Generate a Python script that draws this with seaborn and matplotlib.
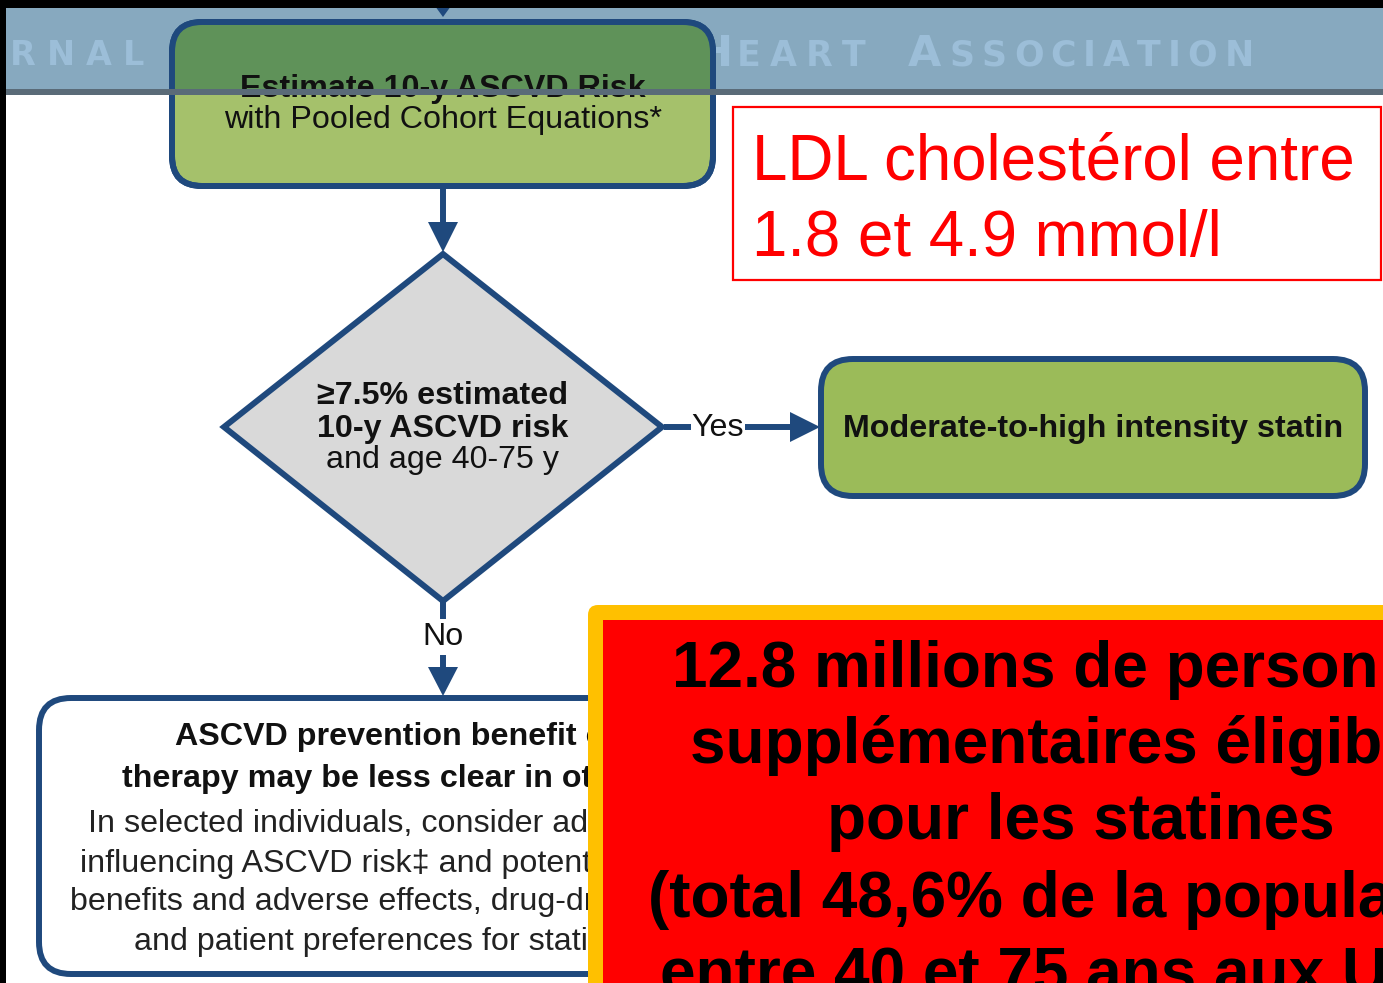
import matplotlib
matplotlib.use("Agg")
import matplotlib.pyplot as plt
from matplotlib.patches import FancyBboxPatch, Rectangle, Polygon
import seaborn as sns

# ---------------- text content ----------------
header_left = "RNAL"
header_right_parts = ["H", "EART", "A", "SSOCIATION"]
top_box_lines = ["Estimate 10-y ASCVD Risk", "with Pooled Cohort Equations*"]
diamond_bold = ["\u22657.5% estimated", "10-y ASCVD risk"]
diamond_regular = ["and age 40-75 y"]
yes_label = "Yes"
no_label = "No"
statin_label = "Moderate-to-high intensity statin"
bottom_bold = ["ASCVD prevention benefit of statin",
               "therapy may be less clear in other groups"]
bottom_regular = ["In selected individuals, consider additional factors",
                  "influencing ASCVD risk\u2021 and potential ASCVD risk",
                  "benefits and adverse effects, drug-drug interactions,",
                  "and patient preferences for statin treatment"]
ldl_lines = ["LDL cholest\u00e9rol entre", "1.8 et 4.9 mmol/l"]
red_lines = ["12.8 millions de personnes",
             "suppl\u00e9mentaires \u00e9ligibles",
             "pour les statines",
             "(total 48,6% de la population",
             "entre 40 et 75 ans aux USA)"]

# ---------------- style ----------------
sns.set_theme(style="white")
plt.rcParams['font.family'] = ['Liberation Sans', 'DejaVu Sans']

BLUE = "#1F497D"
HEADER = "#87A9BF"
HEADER_TXT = "#9CBED8"
HEADER_LINE = "#5A6B78"
GREEN_LIGHT = "#A5C16B"
GREEN_DARK = "#5F9259"
GREEN_BOX = "#9BBB59"
GREY = "#D9D9D9"
TXT = "#111111"
FS = 23.2

W, H = 1383, 983
fig = plt.figure(figsize=(W / 100, H / 100), dpi=100)
ax = fig.add_axes([0, 0, 1, 1])
ax.set_xlim(0, W)
ax.set_ylim(H, 0)
ax.axis("off")
renderer = fig.canvas.get_renderer()

LW = 4.3  # ~6 px borders

# header band
ax.add_patch(Rectangle((0, 0), W, 92, facecolor=HEADER, edgecolor="none", zorder=0))


def tracked(x, y, text, size, tracking, **kw):
    for ch in text:
        t = ax.text(x, y, ch, fontsize=size, ha="left", va="baseline", **kw)
        bb = t.get_window_extent(renderer=renderer)
        x += bb.width + tracking
    return x


hk = dict(color=HEADER_TXT, fontweight="bold", family="DejaVu Sans", zorder=0.5)
tracked(10, 65, header_left, 24, 11, **hk)
tracked(697, 66, header_right_parts[0], 31, 0, **hk)
tracked(737, 66, header_right_parts[1], 25, 9, **hk)
tracked(908, 66, header_right_parts[2], 31, 0, **hk)
tracked(950, 66, header_right_parts[3], 25, 7, **hk)

# top small arrow (entering from above)
ax.add_patch(Polygon([(435, 6), (451, 6), (443, 17)], closed=True,
                     facecolor=BLUE, edgecolor="none", zorder=1))

# top green box
top_box = FancyBboxPatch((172, 22), 541, 164, boxstyle="round,pad=0,rounding_size=30",
                         facecolor=GREEN_LIGHT, edgecolor=BLUE, linewidth=LW, zorder=2)
ax.add_patch(top_box)
dark = Rectangle((160, 0), 570, 92, facecolor=GREEN_DARK, edgecolor="none", zorder=2.1)
ax.add_patch(dark)
dark.set_clip_path(top_box)
ax.add_patch(FancyBboxPatch((172, 22), 541, 164, boxstyle="round,pad=0,rounding_size=30",
                            facecolor="none", edgecolor=BLUE, linewidth=LW, zorder=2.2))
ax.text(443, 97, top_box_lines[0], fontsize=FS, fontweight="bold", color=TXT,
        ha="center", va="baseline", zorder=3)
ax.text(443, 128, top_box_lines[1], fontsize=FS, color=TXT,
        ha="center", va="baseline", zorder=3)

# header line over everything at top
ax.add_patch(Rectangle((0, 89), W, 6, facecolor=HEADER_LINE, edgecolor="none", zorder=4))

# black frame
ax.add_patch(Rectangle((0, 0), W, 8, facecolor="black", edgecolor="none", zorder=10))
ax.add_patch(Rectangle((0, 0), 6, H, facecolor="black", edgecolor="none", zorder=10))

# arrow top box -> diamond
ax.plot([443, 443], [188, 228], color=BLUE, lw=LW, solid_capstyle="butt", zorder=2)
ax.add_patch(Polygon([(428, 222), (458, 222), (443, 252)], closed=True,
                     facecolor=BLUE, edgecolor="none", zorder=2))

# diamond
ax.add_patch(Polygon([(443, 254), (662, 427), (443, 601), (224, 427)], closed=True,
                     facecolor=GREY, edgecolor=BLUE, linewidth=LW, joinstyle="miter", zorder=2))
ax.text(443, 404, diamond_bold[0], fontsize=FS, fontweight="bold", color=TXT,
        ha="center", va="baseline", zorder=3)
ax.text(443, 437, diamond_bold[1], fontsize=FS, fontweight="bold", color=TXT,
        ha="center", va="baseline", zorder=3)
ax.text(443, 468, diamond_regular[0], fontsize=FS, color=TXT,
        ha="center", va="baseline", zorder=3)

# Yes arrow
ax.plot([664, 795], [427, 427], color=BLUE, lw=LW, solid_capstyle="butt", zorder=2)
ax.add_patch(Polygon([(790, 412), (790, 442), (820, 427)], closed=True,
                     facecolor=BLUE, edgecolor="none", zorder=2))
ax.text(718, 436, yes_label, fontsize=FS, color=TXT, ha="center", va="baseline", zorder=3,
        bbox=dict(facecolor="white", edgecolor="none", pad=0.5))

# statin box
ax.add_patch(FancyBboxPatch((821, 359), 544, 137, boxstyle="round,pad=0,rounding_size=32",
                            facecolor=GREEN_BOX, edgecolor=BLUE, linewidth=LW, zorder=2))
ax.text(1093, 437, statin_label, fontsize=FS, fontweight="bold", color=TXT,
        ha="center", va="baseline", zorder=3)

# No arrow
ax.plot([443, 443], [602, 670], color=BLUE, lw=LW, solid_capstyle="butt", zorder=2)
ax.add_patch(Polygon([(428, 667), (458, 667), (443, 696)], closed=True,
                     facecolor=BLUE, edgecolor="none", zorder=2))
ax.text(443, 645, no_label, fontsize=FS, color=TXT, ha="center", va="baseline", zorder=3,
        bbox=dict(facecolor="white", edgecolor="none", pad=2))

# bottom box
ax.add_patch(FancyBboxPatch((39, 698), 900, 276, boxstyle="round,pad=0,rounding_size=32",
                            facecolor="white", edgecolor=BLUE, linewidth=LW, zorder=2))
bold_x = [175, 122]
bold_y = [745, 787]
for s, x, y in zip(bottom_bold, bold_x, bold_y):
    ax.text(x, y, s, fontsize=FS, fontweight="bold", color=TXT, ha="left", va="baseline", zorder=3)
reg_x = [88, 80, 70, 134]
reg_y = [832, 872, 910, 950]
for s, x, y in zip(bottom_regular, reg_x, reg_y):
    ax.text(x, y, s, fontsize=FS, color="#222222", ha="left", va="baseline", zorder=3)

# LDL red outlined box
ax.add_patch(Rectangle((733, 107), 648, 173, facecolor="white", edgecolor="#FF0000",
                       linewidth=1.6, zorder=5))
ax.text(752, 180, ldl_lines[0], fontsize=45.8, color="#FF0000", ha="left", va="baseline", zorder=6)
ax.text(752, 256, ldl_lines[1], fontsize=45.8, color="#FF0000", ha="left", va="baseline", zorder=6)

# orange / red box
ax.add_patch(FancyBboxPatch((588, 605), 900, 500, boxstyle="round,pad=0,rounding_size=10",
                            facecolor="#FFC000", edgecolor="none", zorder=7))
ax.add_patch(Rectangle((603, 620), 900, 500, facecolor="#FF0000", edgecolor="none", zorder=7.5))
red_x = [672, 690, 827, 648, 660]
red_y = [687, 763, 839, 917, 993]
for s, x, y in zip(red_lines, red_x, red_y):
    ax.text(x, y, s, fontsize=46, fontweight="bold", color="black", ha="left",
            va="baseline", zorder=8, clip_on=True)

fig.savefig("out.png", dpi=100)
